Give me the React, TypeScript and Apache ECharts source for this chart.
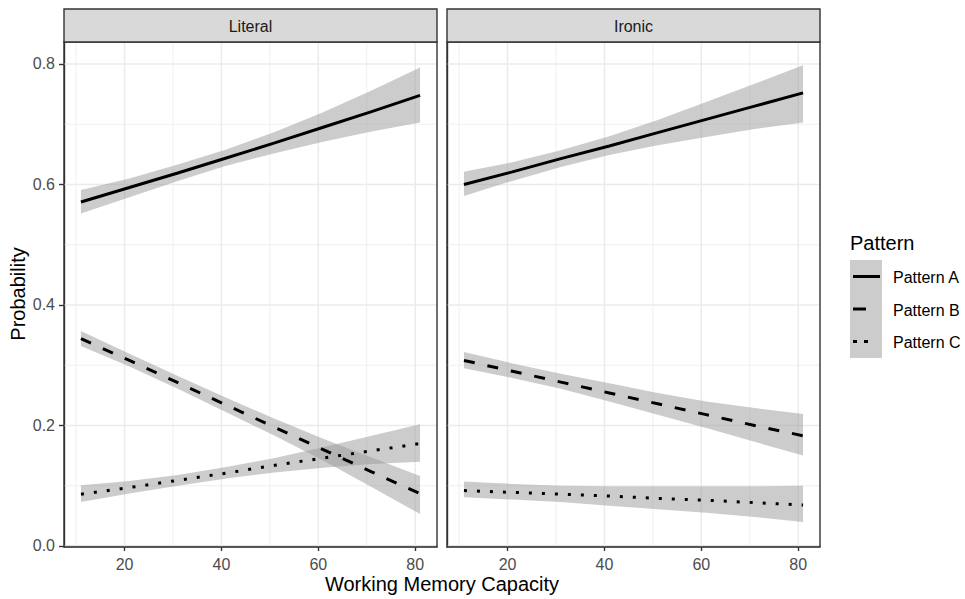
import React, { useEffect, useRef } from "react";
import * as echarts from "echarts";

// ---------------- data ----------------
const PANELS = ["Literal", "Ironic"];
const PATTERNS = ["Pattern A", "Pattern B", "Pattern C"];
const X_VALUES = [11, 21, 31, 41, 51, 61, 71, 81];

// Literal panel
const LIT_A_FIT = [0.571, 0.595, 0.619, 0.644, 0.669, 0.695, 0.721, 0.748];
const LIT_A_LO = [0.552, 0.579, 0.606, 0.631, 0.652, 0.671, 0.688, 0.703];
const LIT_A_HI = [0.591, 0.61, 0.633, 0.658, 0.687, 0.72, 0.756, 0.794];

const LIT_B_FIT = [0.344, 0.308, 0.271, 0.234, 0.197, 0.16, 0.123, 0.087];
const LIT_B_LO = [0.332, 0.298, 0.261, 0.222, 0.183, 0.142, 0.098, 0.053];
const LIT_B_HI = [0.357, 0.319, 0.282, 0.246, 0.211, 0.178, 0.147, 0.116];

const LIT_C_FIT = [0.086, 0.097, 0.109, 0.121, 0.134, 0.146, 0.158, 0.17];
const LIT_C_LO = [0.073, 0.087, 0.1, 0.112, 0.122, 0.13, 0.136, 0.14];
const LIT_C_HI = [0.101, 0.108, 0.118, 0.131, 0.146, 0.164, 0.183, 0.202];

// Ironic panel
const IRO_A_FIT = [0.6, 0.621, 0.643, 0.664, 0.686, 0.708, 0.73, 0.752];
const IRO_A_LO = [0.581, 0.606, 0.629, 0.649, 0.665, 0.679, 0.692, 0.703];
const IRO_A_HI = [0.621, 0.637, 0.657, 0.68, 0.707, 0.737, 0.767, 0.798];

const IRO_B_FIT = [0.308, 0.29, 0.272, 0.254, 0.236, 0.218, 0.2, 0.183];
const IRO_B_LO = [0.295, 0.279, 0.261, 0.24, 0.218, 0.196, 0.173, 0.15];
const IRO_B_HI = [0.322, 0.303, 0.286, 0.27, 0.254, 0.24, 0.229, 0.219];

const IRO_C_FIT = [0.092, 0.089, 0.086, 0.083, 0.079, 0.076, 0.072, 0.068];
const IRO_C_LO = [0.081, 0.077, 0.073, 0.067, 0.061, 0.055, 0.048, 0.04];
const IRO_C_HI = [0.107, 0.103, 0.1, 0.099, 0.099, 0.099, 0.099, 0.1];

const X_TICKS = [20, 40, 60, 80];
const X_MINOR = [10, 30, 50, 70];
const Y_TICKS = [0, 0.2, 0.4, 0.6, 0.8];
const Y_MINOR = [0.1, 0.3, 0.5, 0.7];

// ---------------- style ----------------
const FONT = "'Liberation Sans', Arial, Helvetica, sans-serif";
const BAND_FILL = "rgba(153,153,153,0.5)";
const GRID_COLOR = "#ebebeb";
const DARK = "#333333";
const LINE_TYPES: any[] = ["solid", [11, 13], [3, 10]];

const X_MIN = 7.5;
const X_MAX = 84.5;
const Y_MIN = -0.00166;
const Y_MAX = 0.8365;

const GRIDS = [
  { left: 64, top: 42, width: 373, height: 505 },
  { left: 447, top: 42, width: 373, height: 505 },
];

const PANEL_DATA = [
  {
    fit: [LIT_A_FIT, LIT_B_FIT, LIT_C_FIT],
    lo: [LIT_A_LO, LIT_B_LO, LIT_C_LO],
    hi: [LIT_A_HI, LIT_B_HI, LIT_C_HI],
  },
  {
    fit: [IRO_A_FIT, IRO_B_FIT, IRO_C_FIT],
    lo: [IRO_A_LO, IRO_B_LO, IRO_C_LO],
    hi: [IRO_A_HI, IRO_B_HI, IRO_C_HI],
  },
];

function gridLineSeries(gi: number, values: number[], vertical: boolean, width: number) {
  return {
    type: "custom",
    xAxisIndex: gi,
    yAxisIndex: gi,
    silent: true,
    z: 1,
    clip: true,
    data: values.map((v) => (vertical ? [v, 0.4] : [40, v])),
    renderItem: (params: any, api: any) => {
      const cs = params.coordSys;
      const p = api.coord([api.value(0), api.value(1)]);
      const shape = vertical
        ? { x1: p[0], y1: cs.y, x2: p[0], y2: cs.y + cs.height }
        : { x1: cs.x, y1: p[1], x2: cs.x + cs.width, y2: p[1] };
      return { type: "line", shape, style: { stroke: GRID_COLOR, lineWidth: width } };
    },
  };
}

function bandSeries(gi: number, lo: number[], hi: number[], name: string) {
  return {
    type: "custom",
    name,
    xAxisIndex: gi,
    yAxisIndex: gi,
    silent: true,
    z: 2,
    clip: true,
    data: X_VALUES.map((x, i) => [x, lo[i], hi[i]]),
    encode: { x: 0, y: [1, 2] },
    renderItem: (params: any, api: any) => {
      if (params.dataIndex !== 0) return null;
      const top = X_VALUES.map((x, i) => api.coord([x, hi[i]]));
      const bot = X_VALUES.map((x, i) => api.coord([x, lo[i]])).reverse();
      return {
        type: "polygon",
        shape: { points: top.concat(bot) },
        style: { fill: BAND_FILL, stroke: "none" },
      };
    },
  };
}

function buildOption() {
  const series: any[] = [];
  GRIDS.forEach((_, gi) => {
    series.push(gridLineSeries(gi, X_MINOR, true, 0.8));
    series.push(gridLineSeries(gi, Y_MINOR, false, 0.8));
    series.push(gridLineSeries(gi, X_TICKS, true, 1.5));
    series.push(gridLineSeries(gi, Y_TICKS, false, 1.5));
  });
  PANEL_DATA.forEach((pd, gi) => {
    PATTERNS.forEach((p, k) => {
      series.push(bandSeries(gi, pd.lo[k], pd.hi[k], p + " band"));
    });
  });
  PANEL_DATA.forEach((pd, gi) => {
    PATTERNS.forEach((p, k) => {
      series.push({
        type: "line",
        name: p,
        xAxisIndex: gi,
        yAxisIndex: gi,
        z: 3,
        showSymbol: false,
        symbol: "none",
        silent: true,
        data: X_VALUES.map((x, i) => [x, pd.fit[k][i]]),
        lineStyle: { color: "#000", width: 3, type: LINE_TYPES[k], cap: "butt" },
      });
    });
  });

  const xAxes = GRIDS.map((_, gi) => ({
    type: "value",
    gridIndex: gi,
    min: X_MIN,
    max: X_MAX,
    axisLine: { show: true, lineStyle: { color: DARK, width: 1.4 } },
    axisTick: { show: true, customValues: X_TICKS, length: 5, lineStyle: { color: DARK, width: 1.4 } },
    axisLabel: {
      show: true,
      customValues: X_TICKS,
      margin: 9,
      color: "#4d4d4d",
      fontSize: 16,
      fontFamily: FONT,
      formatter: (v: number) => String(Math.round(v)),
    },
    splitLine: { show: false },
  }));

  const yAxes = GRIDS.map((_, gi) => ({
    type: "value",
    gridIndex: gi,
    min: Y_MIN,
    max: Y_MAX,
    axisLine: { show: true, lineStyle: { color: DARK, width: 1.4 } },
    axisTick: {
      show: gi === 0,
      customValues: Y_TICKS,
      length: 5,
      lineStyle: { color: DARK, width: 1.4 },
    },
    axisLabel: {
      show: gi === 0,
      customValues: Y_TICKS,
      margin: 9,
      color: "#4d4d4d",
      fontSize: 16,
      fontFamily: FONT,
      formatter: (v: number) => v.toFixed(1),
    },
    splitLine: { show: false },
  }));

  const graphics: any[] = [];
  GRIDS.forEach((g, gi) => {
    graphics.push({
      type: "rect",
      z: 20,
      silent: true,
      shape: { x: g.left, y: g.top, width: g.width, height: g.height },
      style: { fill: "none", stroke: DARK, lineWidth: 1.4 },
    });
    graphics.push({
      type: "rect",
      z: 20,
      silent: true,
      shape: { x: g.left, y: 9, width: g.width, height: 33 },
      style: { fill: "#d9d9d9", stroke: DARK, lineWidth: 1.4 },
    });
    graphics.push({
      type: "text",
      z: 21,
      silent: true,
      x: g.left + g.width / 2,
      y: 26,
      style: {
        text: PANELS[gi],
        fill: "#1a1a1a",
        font: `16px ${FONT}`,
        align: "center",
        verticalAlign: "middle",
      },
    });
  });

  graphics.push({
    type: "text",
    silent: true,
    x: 442,
    y: 584,
    style: {
      text: "Working Memory Capacity",
      fill: "#000",
      font: `20px ${FONT}`,
      align: "center",
      verticalAlign: "middle",
    },
  });
  graphics.push({
    type: "text",
    silent: true,
    x: 17.5,
    y: 294,
    rotation: Math.PI / 2,
    style: {
      text: "Probability",
      fill: "#000",
      font: `20px ${FONT}`,
      align: "center",
      verticalAlign: "middle",
    },
  });

  // legend
  graphics.push({
    type: "text",
    silent: true,
    x: 850,
    y: 243,
    style: {
      text: "Pattern",
      fill: "#000",
      font: `20px ${FONT}`,
      align: "left",
      verticalAlign: "middle",
    },
  });
  graphics.push({
    type: "rect",
    silent: true,
    shape: { x: 850, y: 260, width: 32, height: 98 },
    style: { fill: "#cccccc", stroke: "none" },
  });
  const keyY = [276.5, 309, 341.5];
  const keySeg = [
    { x1: 853, x2: 880, dash: null },
    { x1: 853, x2: 866, dash: null },
    { x1: 853, x2: 868, dash: [4, 7] },
  ];
  PATTERNS.forEach((p, k) => {
    graphics.push({
      type: "line",
      silent: true,
      shape: { x1: keySeg[k].x1, y1: keyY[k], x2: keySeg[k].x2, y2: keyY[k] },
      style: {
        stroke: "#000",
        lineWidth: 3,
        lineDash: keySeg[k].dash || undefined,
        lineCap: "butt",
      },
    });
    graphics.push({
      type: "text",
      silent: true,
      x: 893,
      y: keyY[k] + 1,
      style: {
        text: p,
        fill: "#000",
        font: `16px ${FONT}`,
        align: "left",
        verticalAlign: "middle",
      },
    });
  });

  return {
    animation: false,
    backgroundColor: "#ffffff",
    grid: GRIDS.map((g) => ({ ...g, containLabel: false })),
    xAxis: xAxes,
    yAxis: yAxes,
    series,
    graphic: graphics,
  };
}

export default function App() {
  const ref = useRef<HTMLDivElement>(null);
  useEffect(() => {
    if (!ref.current) return;
    const chart = echarts.init(ref.current, undefined, { renderer: "svg" });
    chart.setOption(buildOption() as any);
    return () => chart.dispose();
  }, []);
  return (
    <div
      ref={ref}
      style={{ position: "fixed", left: 0, top: 0, width: 965, height: 599, background: "#fff" }}
    />
  );
}
